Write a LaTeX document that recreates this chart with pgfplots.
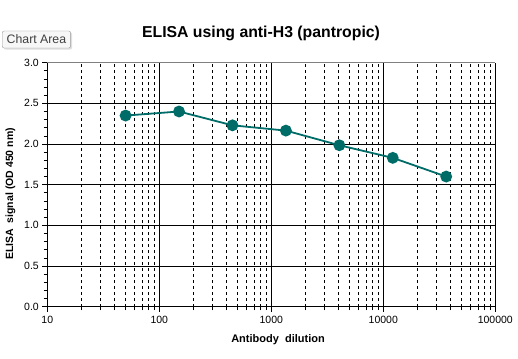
\documentclass[border=0pt]{standalone}
\usepackage{pgfplots}
\pgfplotsset{compat=1.18}
\usepackage{fontspec}
\setmainfont{Liberation Sans}
\usetikzlibrary{shadows}
\definecolor{teal1}{RGB}{0,108,104}
\begin{document}
\begin{tikzpicture}[x=1pt,y=1pt]
\path[use as bounding box] (0,0) rectangle (518,358);
\begin{axis}[
  at={(47.3pt,51.3pt)}, anchor=south west,
  scale only axis, width=448pt, height=244pt,
  xmode=log, xmin=10, xmax=100000,
  ymin=0, ymax=3,
  xtick={10,100,1000,10000,100000},
  xticklabels={10,100,1000,10000,100000},
  ytick={0,0.5,1,1.5,2,2.5,3},
  yticklabels={0.0,0.5,1.0,1.5,2.0,2.5,3.0},
  minor y tick num=4,
  xmajorgrids, xminorgrids, ymajorgrids,
  major grid style={black, line width=0.8pt},
  minor grid style={black, dashed, line width=0.7pt},
  tick align=outside, xtick pos=bottom, ytick pos=left,
  major tick length=5pt, minor tick length=3.5pt,
  tick style={black, line width=0.7pt},
  axis line style={line width=0.8pt},
  axis x line*=bottom, axis y line*=left,
  ticklabel style={font=\fontsize{10.5}{12}\selectfont},
  /pgf/number format/assume math mode=true,
  xticklabel style={yshift=-1pt},
  clip=false,
]
\draw[gray, line width=0.8pt] (axis cs:10,3) -- (axis cs:100000,3);
\addplot[teal1, line width=1.8pt, mark=*, mark size=5pt, mark options={fill=teal1, draw=teal1}]
coordinates {(50,2.35) (150,2.40) (450,2.23) (1350,2.165) (4050,1.985) (12150,1.83) (36450,1.60)};
\end{axis}
\node[font=\bfseries\fontsize{15.8}{18}\selectfont] at (261,325) {ELISA using anti-H3 (pantropic)};
\node[font=\bfseries\fontsize{10.5}{13}\selectfont, rotate=90] at (10.5,164) {ELISA\ \ signal (OD 450 nm)};
\node[font=\bfseries\fontsize{11}{13}\selectfont] at (278,18) {Antibody\ \ dilution};
\node[draw=gray!80, rounded corners=2pt, fill=gray!6, drop shadow={shadow xshift=1.5pt, shadow yshift=-1.5pt, fill=gray!50}, font=\fontsize{12.3}{14}\selectfont, text=black!75, inner xsep=4.5pt, inner ysep=4pt, anchor=west] at (2,318.5) {Chart Area};
\end{tikzpicture}
\end{document}
